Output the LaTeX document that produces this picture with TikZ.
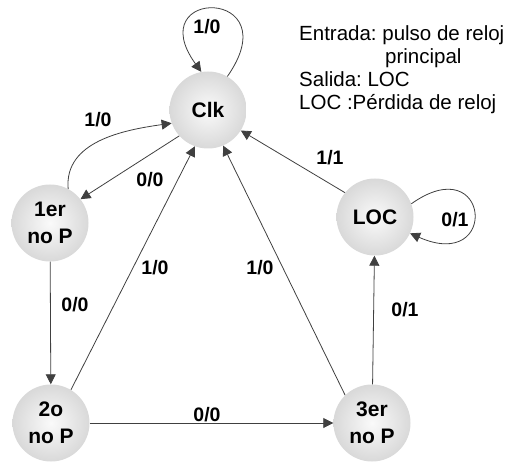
\documentclass[tikz,border=0pt]{standalone}
\usepackage{fontspec}
\setmainfont{Liberation Sans}
\usetikzlibrary{arrows.meta,positioning,calc}
\frenchspacing

\begin{document}
\begin{tikzpicture}[x=1pt,y=1pt,
  estado/.style={circle, minimum size=77pt, inner sep=0pt, shading=radial,
    inner color=gray!4, outer color=gray!30, align=center,
    font=\fontsize{21}{27}\selectfont\bfseries},
  trans/.style={-{Triangle[length=10pt,width=10pt]}, draw=black!75, line width=0.8pt},
  etq/.style={font=\fontsize{19.5}{22}\selectfont\bfseries}]
  \useasboundingbox (0,0) rectangle (505,463);

  % estados
  \node[estado] (clk) at (208,353) {Clk};
  \node[estado] (uno) at (50,240) {1er\\no P};
  \node[estado] (loc) at (375,246) {LOC};
  \node[estado] (dos) at (51,40) {2o\\no P};
  \node[estado] (tres) at (372,40) {3er\\no P};

  % leyenda
  \node[anchor=north west, align=left, inner sep=0pt,
    font=\fontsize{20.5}{23}\selectfont] (leyenda) at (299,438)
    {Entrada: pulso de reloj\\ \hspace*{86pt}principal\\ Salida: LOC\\ LOC :Pérdida de reloj};

  % transiciones
  \draw[trans] (clk.60) .. controls (290,476) and (140,476) .. (clk.100);
  \draw[trans] (uno.62) to[out=95, in=188] (clk.200);
  \draw[trans] (clk.222) -- (uno.38);
  \draw[trans] (uno) -- (dos);
  \draw[trans] (dos.59) -- (clk.250);
  \draw[trans] (tres.134) -- (clk.293);
  \draw[trans] (dos) -- (tres);
  \draw[trans] (tres) -- (loc);
  \draw[trans] (loc.141) -- (clk.328);
  \draw[trans] (loc.20) .. controls (490,315) and (500,190) .. (loc.-25);

  % etiquetas
  \node[etq] (e1) at (207,436) {1/0};
  \node[etq] (e2) at (98,343) {1/0};
  \node[etq] (e3) at (150,283) {0/0};
  \node[etq] (e4) at (75,158) {0/0};
  \node[etq] (e5) at (155,195) {1/0};
  \node[etq] (e6) at (260,195) {1/0};
  \node[etq] (e7) at (207,48) {0/0};
  \node[etq] (e8) at (405,153) {0/1};
  \node[etq] (e9) at (330,305) {1/1};
  \node[etq] (e10) at (455,243) {0/1};
\end{tikzpicture}
\end{document}
